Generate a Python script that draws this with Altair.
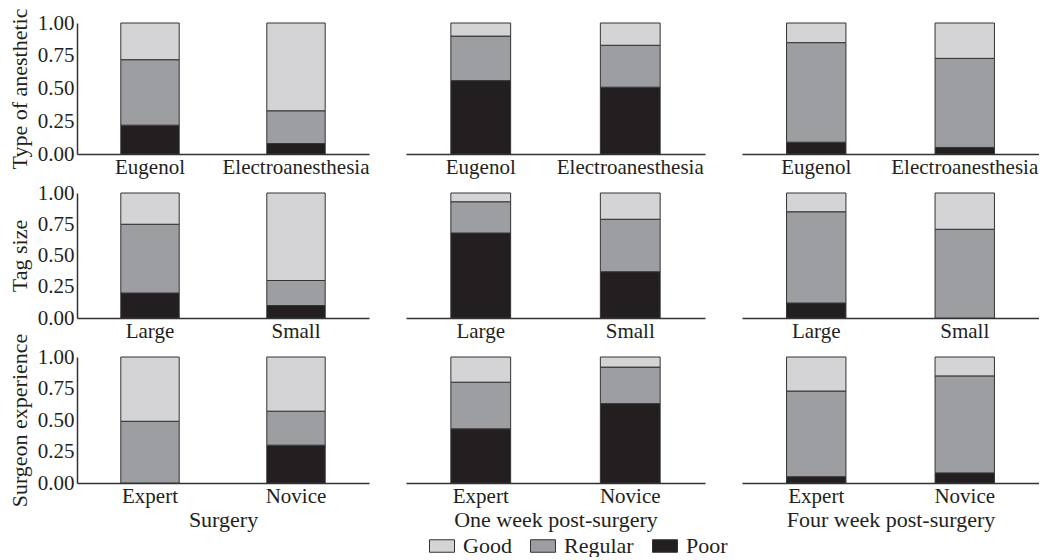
import altair as alt
import pandas as pd

factors = ["Type of anesthetic", "Tag size", "Surgeon experience"]
periods = ["Surgery", "One week post-surgery", "Four week post-surgery"]
categories = [["Eugenol", "Electroanesthesia"], ["Large", "Small"], ["Expert", "Novice"]]
ratings = ["Good", "Regular", "Poor"]
rating_colors = ["#d4d4d6", "#9d9ea2", "#231f20"]

# proportions: factor -> period -> category
poor = [
    [[0.22, 0.08], [0.56, 0.51], [0.09, 0.05]],
    [[0.20, 0.10], [0.68, 0.37], [0.12, 0.00]],
    [[0.00, 0.30], [0.43, 0.63], [0.05, 0.08]],
]
regular = [
    [[0.50, 0.25], [0.34, 0.32], [0.76, 0.68]],
    [[0.55, 0.20], [0.25, 0.42], [0.73, 0.71]],
    [[0.49, 0.27], [0.37, 0.29], [0.68, 0.77]],
]
good = [
    [[0.28, 0.67], [0.10, 0.17], [0.15, 0.27]],
    [[0.25, 0.70], [0.07, 0.21], [0.15, 0.29]],
    [[0.51, 0.43], [0.20, 0.08], [0.27, 0.15]],
]

records = []
for fi, f in enumerate(factors):
    for pi, p in enumerate(periods):
        for ci, c in enumerate(categories[fi]):
            for rank, (name, arr) in enumerate([("Poor", poor), ("Regular", regular), ("Good", good)]):
                v = arr[fi][pi][ci]
                if v > 0:
                    records.append({"factor": f, "period": p, "category": c,
                                    "rating": name, "rank": rank, "value": v})
df = pd.DataFrame(records)

FONT = "Liberation Serif"
TXT = "#231f20"
widths = [292, 299, 297]
heights = [131, 125, 126]

legend = alt.Legend(
    title=None, orient="none", direction="horizontal", legendX=352, legendY=510,
    symbolType="M-1,-0.5H1V0.5H-1Z", symbolSize=625, symbolStrokeColor="#333333",
    symbolStrokeWidth=1, symbolOpacity=1, labelFont=FONT, labelFontSize=22,
    labelColor=TXT, labelOffset=8, columnPadding=16,
)

cells = []
for fi, f in enumerate(factors):
    for pi, p in enumerate(periods):
        sub = df[(df.factor == f) & (df.period == p)]
        x_axis = alt.Axis(title=p if fi == 2 else None, labelAngle=0, labelPadding=2,
                          titlePadding=3)
        if pi == 0:
            y_axis = alt.Axis(title=f, values=[0, 0.25, 0.5, 0.75, 1.0], format=".2f",
                              labelPadding=3, titlePadding=6)
        else:
            y_axis = None
        ch = alt.Chart(sub).mark_bar(stroke="#333333", strokeWidth=1).encode(
            x=alt.X("category:N", sort=categories[fi], axis=x_axis,
                    scale=alt.Scale(paddingInner=0.6, paddingOuter=0.3)),
            y=alt.Y("value:Q", stack="zero", axis=y_axis,
                    scale=alt.Scale(domain=[0, 1], nice=False)),
            color=alt.Color("rating:N", scale=alt.Scale(domain=ratings, range=rating_colors),
                            legend=legend),
            order=alt.Order("rank:Q"),
        ).properties(width=widths[pi], height=heights[fi])
        cells.append(ch)

chart = alt.concat(*cells, columns=3, spacing={"row": 39, "column": 37},
                   bounds="flush", padding=0).configure_view(
    stroke=None
).configure_axis(
    labelFont=FONT, titleFont=FONT, labelFontSize=21, titleFontSize=22,
    labelColor=TXT, titleColor=TXT, titleFontWeight="normal",
    domainColor="#333333", domainWidth=1.5, ticks=False, grid=False,
)

chart.save("out.html", embed_options={"renderer": "svg", "actions": False})
